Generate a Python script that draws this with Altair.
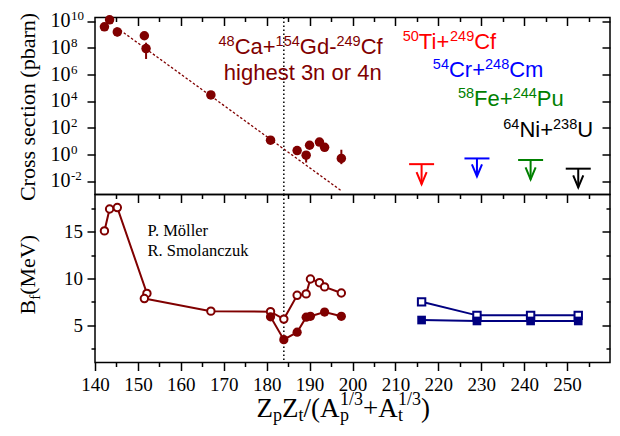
import re
import math
import altair as alt
import pandas as pd

# ---------------- data ----------------
# upper panel: 48Ca + 154Gd ... 249Cf, highest 3n or 4n cross sections (pbarn)
cs_x = [142.2, 143.4, 145.2, 151.5, 151.9, 167.0, 180.9, 187.1, 189.2, 190.0, 192.3, 193.5, 197.4]
cs_val = [3.9e9, 1.3e10, 1.6e9, 8.3e8, 9.1e7, 3.0e4, 12.0, 2.0, 0.89, 5.0, 8.7, 3.5, 0.51]

err_x = [145.2, 151.9, 189.2, 197.4]
err_lo = [7.5e8, 1.5e7, 0.25, 0.19]
err_hi = [2.0e9, 2.5e8, 1.6, 2.3]

fit_x = [145.0, 197.5]
fit_val = [3.5e9, 1.8e-3]

# upper limits (^{..} marks a superscript)
lim_names = ["^{50}Ti+^{249}Cf", "^{54}Cr+^{248}Cm", "^{58}Fe+^{244}Pu", "^{64}Ni+^{238}U"]
lim_colors = ["#ff0000", "#0000ff", "#008000", "#000000"]
lim_x = [216.1, 229.0, 241.5, 252.6]
lim_val = [0.19, 0.51, 0.39, 0.087]
lim_tip = [0.0059, 0.023, 0.0135, 0.0034]
lim_label_x = [222.6, 231.6, 236.9, 245.6]
lim_label_y = [8.1e7, 6.3e5, 4.7e3, 21.0]

ca_text = ["^{48}Ca+^{154}Gd-^{249}Cf", "highest 3n or 4n"]
ca_text_x = [187.9, 188.4]
ca_text_y = [3.5e7, 4.1e5]

vline_x = [184.0]

# lower panel: fission barriers (MeV)
bf_open_x = [142.2, 143.4, 145.2, 152.1, 151.5, 167.0, 180.9, 184.0, 187.1, 189.2, 190.2, 192.3, 193.5, 197.4]
bf_open_y = [15.1, 17.45, 17.6, 8.4, 7.85, 6.5, 6.45, 5.65, 8.2, 8.35, 9.95, 9.55, 9.1, 8.45]
bf_fill_x = [180.9, 184.0, 187.1, 189.2, 190.2, 193.5, 197.4]
bf_fill_y = [5.9, 3.45, 4.25, 5.85, 5.95, 6.4, 5.95]
sq_x = [216.1, 229.0, 241.5, 252.6]
sq_open_y = [7.5, 6.05, 6.05, 6.05]
sq_fill_y = [5.55, 5.45, 5.45, 5.45]

authors = ["P. Möller", "R. Smolanczuk"]
authors_x = [152.25, 152.25]
authors_y = [14.6, 12.4]

# axis ticks / labels
x_major_lab = list(range(140, 251, 10))
x_major_in = list(range(150, 251, 10))
x_minor = list(range(145, 256, 10))
top_exps = [-2, 0, 2, 4, 6, 8, 10]
top_exp_text = ["-2", "0", "2", "4", "6", "8", "10"]
top_y_major = [10.0 ** e for e in top_exps]
bot_y_major = [5, 10, 15]
bot_y_minor = [2.5, 7.5, 12.5, 17.5]

title_top = "Cross section (pbarn)"

# ---------------- styles / layout ----------------
MAROON = "#800000"
NAVY = "#000080"
W = 515
H_TOP = 177
H_BOT = 168
X_DOM = [140, 260]
Y_TOP_DOM = [1e-3, 1.95e10]
ARROW = "M-0.42,-1L0,0L0.42,-1"
PXU = W / (X_DOM[1] - X_DOM[0])                                   # px per x unit
PXD = H_TOP / (math.log10(Y_TOP_DOM[1]) - math.log10(Y_TOP_DOM[0]))  # px per decade

xs = alt.Scale(domain=X_DOM, nice=False, zero=False)
ys_top = alt.Scale(type="log", domain=Y_TOP_DOM, nice=False)
ys_bot = alt.Scale(domain=[1, 19], nice=False, zero=False)
LABEL = dict(labelFont="Liberation Serif", labelFontSize=19, labelColor="black",
             labelFlush=False, labelOverlap=False)

# Arial / Liberation Sans advance widths (1/1000 em)
AW = {c: 556 for c in "0123456789"}
AW.update({"T": 611, "i": 222, "+": 584, "C": 722, "f": 278, "a": 556, "G": 778, "d": 556,
           "-": 333, "r": 333, "m": 833, "F": 611, "e": 556, "P": 667, "u": 556, "N": 722,
           "U": 722, "h": 556, "g": 556, "s": 500, "t": 278, " ": 278, "n": 556, "o": 556})
MAIN, SUPS, RAISE = 22, 14.5, 8.0


def compose(label, ax_, ay_, color):
    parts = re.split(r"(\^\{[^}]*\})", label)
    segs = [(p[2:-1], True) if p.startswith("^{") else (p, False) for p in parts if p]
    widths = [sum(AW[c] for c in t) * (SUPS if s else MAIN) / 1000 for t, s in segs]
    cur = -sum(widths) / 2
    rows = []
    for (t, s), w in zip(segs, widths):
        rows.append({"t": t, "x": ax_ + cur / PXU,
                     "y": ay_ * 10 ** ((RAISE if s else 0) / PXD), "sup": s, "c": color})
        cur += w
    return rows


def tick_axis(orient, values, size, offset=0):
    return alt.Axis(orient=orient, values=values, tickSize=size, offset=offset, labels=False,
                    domain=False, grid=False, title=None, tickColor="black", tickWidth=1.5)


def text_piece(text, x, y, size, angle=0, align="left", font="Liberation Serif"):
    return alt.Chart(pd.DataFrame({"t": [text]})).mark_text(
        font=font, fontSize=size, color="black", angle=angle, align=align, baseline="alphabetic"
    ).encode(text="t:N", x=alt.value(x), y=alt.value(y))


# ---------------- upper panel ----------------
df_cs = pd.DataFrame({"x": cs_x, "y": cs_val})
df_err = pd.DataFrame({"x": err_x, "lo": err_lo, "hi": err_hi})
df_fit = pd.DataFrame({"x": fit_x, "y": fit_val})
df_v = pd.DataFrame({"x": vline_x})
df_lim = pd.DataFrame({"name": lim_names, "x": lim_x, "bar": lim_val, "tip": lim_tip})
lim_color = alt.Color("name:N", scale=alt.Scale(domain=lim_names, range=lim_colors), legend=None)

rows = []
for n, c, lx, ly in zip(lim_names, lim_colors, lim_label_x, lim_label_y):
    rows += compose(n, lx, ly, c)
for t, lx, ly in zip(ca_text, ca_text_x, ca_text_y):
    rows += compose(t, lx, ly, MAROON)
df_lab = pd.DataFrame(rows)

df_ytick = pd.DataFrame({"v": top_y_major, "e": top_exp_text, "b": ["10"] * len(top_exps)})

fit = alt.Chart(df_fit).mark_line(color=MAROON, strokeDash=[2.5, 2], strokeWidth=1.3).encode(
    x=alt.X("x:Q", scale=xs, axis=tick_axis("bottom", x_major_in, 8)),
    y=alt.Y("y:Q", scale=ys_top, axis=tick_axis("left", top_y_major, 8)),
)
vline_t = alt.Chart(df_v).mark_rule(color="black", strokeDash=[1.5, 2.5], strokeWidth=1.5).encode(
    x=alt.X("x:Q", scale=xs, axis=tick_axis("top", x_major_in, 8, offset=-8)),
)
err = alt.Chart(df_err).mark_rule(color=MAROON, strokeWidth=2).encode(
    x=alt.X("x:Q", scale=xs, axis=tick_axis("bottom", x_minor, 4)),
    y=alt.Y("lo:Q", scale=ys_top, axis=tick_axis("right", top_y_major, 8, offset=-8)),
    y2="hi:Q",
)
pts = alt.Chart(df_cs).mark_circle(color=MAROON, size=90, opacity=1).encode(
    x=alt.X("x:Q", scale=xs, axis=tick_axis("top", x_minor, 4, offset=-4)),
    y=alt.Y("y:Q", scale=ys_top, axis=None),
)
lim_bar = alt.Chart(df_lim).mark_tick(orient="horizontal", size=25, thickness=2, opacity=1).encode(
    x=alt.X("x:Q", scale=xs, axis=None), y=alt.Y("bar:Q", scale=ys_top, axis=None), color=lim_color)
lim_shaft = alt.Chart(df_lim).mark_rule(strokeWidth=2).encode(
    x=alt.X("x:Q", scale=xs, axis=None), y=alt.Y("bar:Q", scale=ys_top, axis=None), y2="tip:Q",
    color=lim_color)
lim_head = alt.Chart(df_lim).mark_point(shape=ARROW, filled=False, strokeWidth=2, size=576, opacity=1).encode(
    x=alt.X("x:Q", scale=xs, axis=None), y=alt.Y("tip:Q", scale=ys_top, axis=None), color=lim_color)

lab_base = alt.Chart(df_lab).encode(
    x=alt.X("x:Q", scale=xs, axis=None), y=alt.Y("y:Q", scale=ys_top, axis=None),
    text="t:N", color=alt.Color("c:N", scale=None))
lab_main = lab_base.transform_filter("!datum.sup").mark_text(
    font="Liberation Sans", fontSize=MAIN, align="left", baseline="alphabetic")
lab_sup = lab_base.transform_filter("datum.sup").mark_text(
    font="Liberation Sans", fontSize=SUPS, align="left", baseline="alphabetic")

ytick_base = alt.Chart(df_ytick).encode(y=alt.Y("v:Q", scale=ys_top, axis=None))
ytick_10 = ytick_base.mark_text(font="Liberation Serif", fontSize=20, align="left",
                                baseline="middle", color="black").encode(
    text="b:N", x=alt.value(-44.5))
ytick_e = ytick_base.mark_text(font="Liberation Serif", fontSize=13, align="left",
                               baseline="middle", color="black", dy=-5).encode(
    text="e:N", x=alt.value(-24))

ttl_top = alt.Chart(pd.DataFrame({"t": [title_top]})).mark_text(
    font="Liberation Serif", fontSize=22, angle=270, align="center", baseline="alphabetic", color="black"
).encode(text="t:N", x=alt.value(-60), y=alt.value(H_TOP / 2 + 1))

top = alt.layer(fit, vline_t, err, pts, lim_bar, lim_shaft, lim_head, lab_main, lab_sup,
                ytick_10, ytick_e, ttl_top).properties(
    width=W, height=H_TOP).resolve_axis(x="independent", y="independent")

# ---------------- lower panel ----------------
df_o = pd.DataFrame({"x": bf_open_x, "y": bf_open_y, "i": list(range(len(bf_open_x)))})
df_f = pd.DataFrame({"x": bf_fill_x, "y": bf_fill_y, "i": list(range(len(bf_fill_x)))})
df_sq = pd.DataFrame({"x": sq_x, "yo": sq_open_y, "yf": sq_fill_y})
df_auth = pd.DataFrame({"t": authors, "x": authors_x, "y": authors_y})

vline_b = alt.Chart(df_v).mark_rule(color="black", strokeDash=[1.5, 2.5], strokeWidth=1.5).encode(
    x=alt.X("x:Q", scale=xs, axis=None))
o_line = alt.Chart(df_o).mark_line(color=MAROON, strokeWidth=2).encode(
    x=alt.X("x:Q", scale=xs, axis=alt.Axis(
        orient="bottom", values=x_major_lab, tickSize=8, labelPadding=5, format="d",
        domain=False, grid=False, title=None, tickColor="black", tickWidth=1.5, **LABEL)),
    y=alt.Y("y:Q", scale=ys_bot, axis=alt.Axis(
        orient="left", values=bot_y_major, tickSize=8, labelPadding=4.5, format="d",
        domain=False, grid=False, title=None, tickColor="black", tickWidth=1.5, **LABEL)),
    order="i:Q",
)
o_pts = alt.Chart(df_o).mark_point(shape="circle", filled=True, fill="white", stroke=MAROON,
                                   strokeWidth=2, size=55, opacity=1).encode(
    x=alt.X("x:Q", scale=xs, axis=tick_axis("bottom", x_minor, 4)),
    y=alt.Y("y:Q", scale=ys_bot, axis=tick_axis("left", bot_y_minor, 4)),
)
f_line = alt.Chart(df_f).mark_line(color=MAROON, strokeWidth=2).encode(
    x=alt.X("x:Q", scale=xs, axis=None),
    y=alt.Y("y:Q", scale=ys_bot, axis=tick_axis("right", bot_y_major, 8, offset=-8)),
    order="i:Q",
)
f_pts = alt.Chart(df_f).mark_circle(color=MAROON, size=85, opacity=1).encode(
    x=alt.X("x:Q", scale=xs, axis=None),
    y=alt.Y("y:Q", scale=ys_bot, axis=tick_axis("right", bot_y_minor, 4, offset=-4)),
)
sq_o_line = alt.Chart(df_sq).mark_line(color=NAVY, strokeWidth=2).encode(
    x=alt.X("x:Q", scale=xs, axis=None), y=alt.Y("yo:Q", scale=ys_bot, axis=None))
sq_f_line = alt.Chart(df_sq).mark_line(color=NAVY, strokeWidth=2).encode(
    x=alt.X("x:Q", scale=xs, axis=None), y=alt.Y("yf:Q", scale=ys_bot, axis=None))
sq_o = alt.Chart(df_sq).mark_point(shape="square", filled=True, fill="white", stroke=NAVY,
                                   strokeWidth=2, size=55, opacity=1).encode(
    x=alt.X("x:Q", scale=xs, axis=None), y=alt.Y("yo:Q", scale=ys_bot, axis=None))
sq_f = alt.Chart(df_sq).mark_square(color=NAVY, size=75, opacity=1).encode(
    x=alt.X("x:Q", scale=xs, axis=None), y=alt.Y("yf:Q", scale=ys_bot, axis=None))
auth = alt.Chart(df_auth).mark_text(font="Liberation Serif", fontSize=16.5, align="left",
                                    baseline="alphabetic", color="black").encode(
    x=alt.X("x:Q", scale=xs, axis=None), y=alt.Y("y:Q", scale=ys_bot, axis=None), text="t:N")

# y title B_f(MeV) (rotated) and x title Z_pZ_t/(A_p^{1/3}+A_t^{1/3})
M, S = 27, 18
yb = H_BOT + 54
sub, sup = 4.5, -11.5
titles = [
    text_piece("B", -60, 120, 22, angle=270),
    text_piece("f", -55, 105.3, 15, angle=270),
    text_piece("(MeV)", -60, 100.3, 22, angle=270),
    text_piece("Z", 161.5, yb, M),
    text_piece("p", 178.0, yb + sub, S),
    text_piece("Z", 187.0, yb, M),
    text_piece("t", 203.5, yb + sub, S),
    text_piece("/(A", 208.5, yb, M),
    text_piece("p", 245.0, yb + sub, S),
    text_piece("1/3", 245.0, yb + sup, S),
    text_piece("+A", 268.0, yb, M),
    text_piece("t", 303.0, yb + sub, S),
    text_piece("1/3", 303.0, yb + sup, S),
    text_piece(")", 326.0, yb, M),
]

bottom = alt.layer(vline_b, o_line, o_pts, f_line, f_pts, sq_o_line, sq_f_line, sq_o, sq_f, auth,
                   *titles).properties(width=W, height=H_BOT).resolve_axis(x="independent", y="independent")

chart = alt.vconcat(top, bottom, spacing=0, bounds="flush").properties(
    padding={"left": 8, "top": 1.5, "right": 0, "bottom": 0}
).configure_view(stroke="black", strokeWidth=1.5)

chart.save("out.html", embed_options={"renderer": "svg", "actions": False})
